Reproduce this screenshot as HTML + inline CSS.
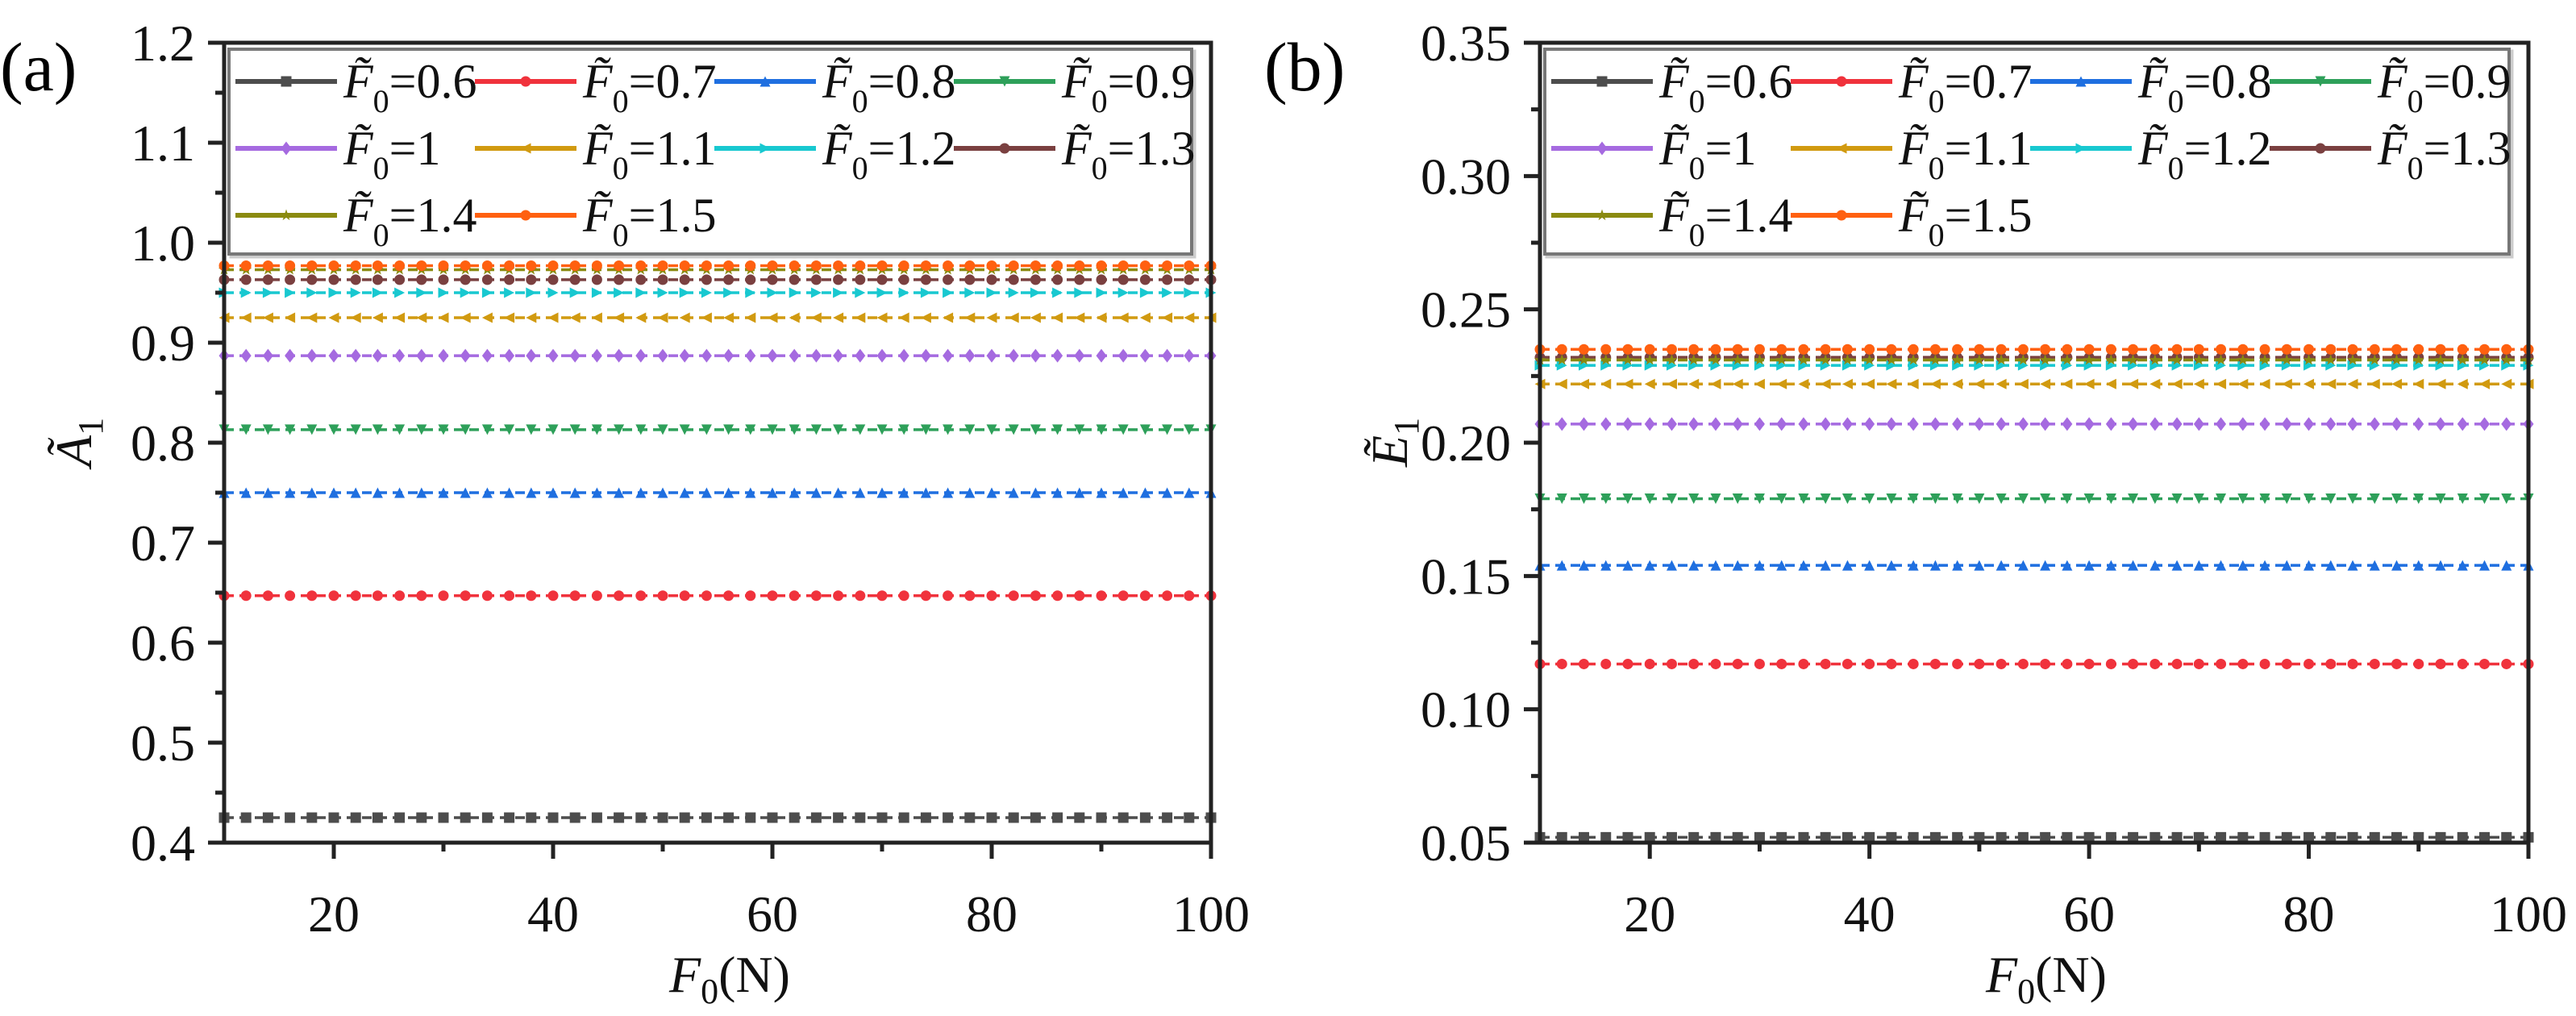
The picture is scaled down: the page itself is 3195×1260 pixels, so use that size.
<!DOCTYPE html>
<html><head><meta charset="utf-8">
<style>
html,body{margin:0;padding:0;background:#fff;}
svg{display:block;font-family:"Liberation Serif",serif;}
</style></head>
<body>
<svg id="chart" width="3195" height="1260" viewBox="0 0 3195 1260" xmlns="http://www.w3.org/2000/svg">
<text x="0" y="112" font-size="86">(a)</text>
<text x="1568" y="112" font-size="86">(b)</text>
<g id="pa"></g>
<g id="pb"></g>
</svg>
<script>
const xs = [10,12,14,16,18,20,22,24,26,28,30,32,34,36,38,40,42,44,46,48,50,52,54,56,58,60,62,64,66,68,70,72,74,76,78,80,82,84,86,88,90,92,94,96,98,100];
const seriesNames = ["0.6","0.7","0.8","0.9","1","1.1","1.2","1.3","1.4","1.5"];
const seriesColors = ["#4d4d4d","#f0323c","#1f6fe0","#2ea05a","#a56ae0","#d19a10","#18c8d0","#7a4040","#8a8a10","#ff6010"];
const seriesMarkers = ["square","circle","up","down","diamond","left","right","circle","star","circle"];
const levelsA = [0.425,0.647,0.75,0.813,0.887,0.925,0.95,0.963,0.973,0.977];
const levelsB = [0.052,0.117,0.154,0.179,0.207,0.222,0.229,0.232,0.231,0.235];
const xTicks = [20,40,60,80,100];
const xMinorTicks = [30,50,70,90];
const yTicksA = ["0.4","0.5","0.6","0.7","0.8","0.9","1.0","1.1","1.2"];
const yTicksB = ["0.05","0.10","0.15","0.20","0.25","0.30","0.35"];

const NS="http://www.w3.org/2000/svg";
function mk(parent,tag,attrs){const e=document.createElementNS(NS,tag);for(const k in attrs)e.setAttribute(k,attrs[k]);parent.appendChild(e);return e;}

function marker(g,type,cx,cy,col){
  const s=6.5;let e;
  if(type==="square"){e=mk(g,"rect",{x:cx-s,y:cy-s,width:2*s,height:2*s,fill:col});}
  else if(type==="circle"){e=mk(g,"circle",{cx:cx,cy:cy,r:s,fill:col});}
  else{
    let pts;
    if(type==="up")pts=[[0,-s],[s,s],[-s,s]];
    else if(type==="down")pts=[[0,s],[s,-s],[-s,-s]];
    else if(type==="left")pts=[[-s,0],[s,-s],[s,s]];
    else if(type==="right")pts=[[s,0],[-s,-s],[-s,s]];
    else if(type==="diamond")pts=[[0,-s-2],[s,0],[0,s+2],[-s,0]];
    else {pts=[];for(let i=0;i<10;i++){const r=i%2?s*0.45:s+1;const a=-Math.PI/2+i*Math.PI/5;pts.push([r*Math.cos(a),r*Math.sin(a)]);}}
    e=mk(g,"polygon",{points:pts.map(p=>(cx+p[0])+","+(cy+p[1])).join(" "),fill:col});
  }
  
  
}

function panel(gid,x0,x1,y0,y1,ymin,ymax,yTicks,minorStep,levels,ytitle){
  const g=document.getElementById(gid);
  const sx=v=>x0+(v-10)/(100-10)*(x1-x0);
  const sy=v=>y1-(v-ymin)/(ymax-ymin)*(y1-y0);
  levels.forEach((lv,i)=>{
    const sg=mk(g,"g",{});
    
    
    const y=sy(lv);
    const ln=mk(sg,"line",{x1:sx(xs[0]),y1:y,x2:sx(xs[xs.length-1]),y2:y,stroke:seriesColors[i],"stroke-width":3.5,"stroke-dasharray":"12 7"});
    
    
    xs.forEach(xv=>marker(sg,seriesMarkers[i],sx(xv),y,seriesColors[i]));
  });
  const fr=mk(g,"rect",{x:x0,y:y0,width:x1-x0,height:y1-y0,fill:"none",stroke:"#222","stroke-width":5});
  
  
  yTicks.forEach(t=>{
    const v=parseFloat(t),y=sy(v);
    const tk=mk(g,"line",{x1:x0-20,y1:y,x2:x0,y2:y,stroke:"#222","stroke-width":5});
    
    
    const tx=mk(g,"text",{x:x0-36,y:y+22,"font-size":64,"text-anchor":"end",fill:"#111"});
    tx.textContent=t;
    
    
    const mv=v+minorStep;
    if(mv<ymax-1e-9){
      const my=sy(mv);
      const mt=mk(g,"line",{x1:x0-11,y1:my,x2:x0,y2:my,stroke:"#222","stroke-width":5});
      
      
    }
  });
  xTicks.forEach(t=>{
    const x=sx(t);
    const tk=mk(g,"line",{x1:x,y1:y1,x2:x,y2:y1+20,stroke:"#222","stroke-width":5});
    
    
    const tx=mk(g,"text",{x:x,y:y1+110,"font-size":64,"text-anchor":"middle",fill:"#111"});
    tx.textContent=String(t);
    
    
  });
  xMinorTicks.forEach(t=>{
    const x=sx(t);
    const tk=mk(g,"line",{x1:x,y1:y1,x2:x,y2:y1+11,stroke:"#222","stroke-width":5});
    
    
  });
  const xt=mk(g,"text",{x:(x0+x1)/2-60,y:y1+185,"font-size":64,fill:"#111"});
  xt.innerHTML='<tspan font-style="italic">F</tspan><tspan font-size="44" dy="14">0</tspan><tspan dy="-14">(N)</tspan>';
  
  
  const yt=mk(g,"text",{x:0,y:0,"font-size":64,fill:"#111",transform:"translate("+(x0-165)+","+((y0+y1)/2+30)+") rotate(-90)"});
  yt.innerHTML='<tspan font-style="italic">'+ytitle+'\u0303</tspan><tspan font-size="44" dy="14">1</tspan>';
  
  
  const lg=mk(g,"g",{});
  
  
  const lx=x0+6,ly=y0+8,lw=(x1-x0)-30,lh=254;
  mk(lg,"rect",{x:lx+3,y:ly+3,width:lw,height:lh,fill:"none",stroke:"#ccc","stroke-width":5});
  mk(lg,"rect",{x:lx,y:ly,width:lw,height:lh,fill:"#fff",stroke:"#777","stroke-width":4});
  const colW=297;
  seriesNames.forEach((n,i)=>{
    const r=Math.floor(i/4),c=i%4;
    const ex=lx+8+c*colW, ey=ly+40+r*83;
    const en=mk(lg,"g",{});
    
    
    mk(en,"line",{x1:ex,y1:ey,x2:ex+126,y2:ey,stroke:seriesColors[i],"stroke-width":6});
    marker(en,seriesMarkers[i],ex+63,ey,seriesColors[i]);
    const t=mk(en,"text",{x:ex+134,y:ey+20,"font-size":60,fill:"#111"});
    t.innerHTML='<tspan font-style="italic">F\u0303</tspan><tspan font-size="40" dy="18">0</tspan><tspan dy="-18">='+n+'</tspan>';
  });
}
panel("pa",278,1502,53,1045,0.4,1.2,yTicksA,0.05,levelsA,"A");
panel("pb",1910,3136,53,1045,0.05,0.35,yTicksB,0.025,levelsB,"E");
</script>
</body></html>
